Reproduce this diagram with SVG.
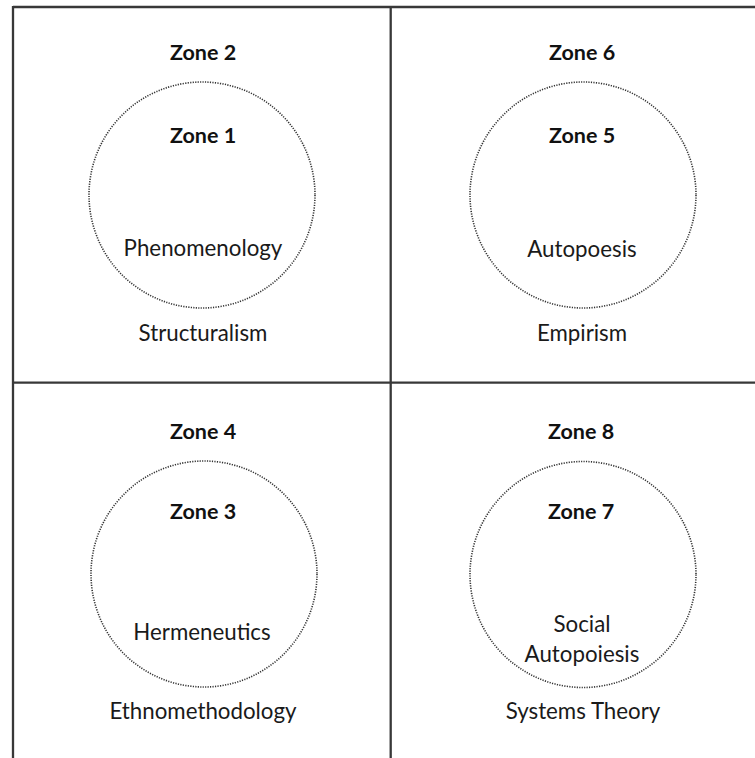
<svg xmlns="http://www.w3.org/2000/svg" width="755" height="758" viewBox="0 0 755 758">
  <style>
    .grid { stroke: #383838; stroke-width: 2.3; fill: none; }
    .ring { fill: none; stroke: #333; stroke-width: 1.6; stroke-dasharray: 1.2 1.3; }
    .zone { font-family: Lato, "Liberation Sans", sans-serif; font-weight: bold; font-size: 21.5px; fill: #111; text-anchor: middle; }
    .label { font-family: Lato, "Liberation Sans", sans-serif; font-size: 22.3px; fill: #1a1a1a; text-anchor: middle; }
  </style>
  <rect width="755" height="758" fill="#fff"/>

  <!-- quadrant frame -->
  <g id="connectors">
    <line class="grid" x1="13" y1="7" x2="755" y2="7"/>
    <line class="grid" x1="13" y1="6" x2="13" y2="758"/>
    <line class="grid" x1="390.7" y1="7" x2="390.7" y2="758"/>
    <line class="grid" x1="13" y1="382.7" x2="755" y2="382.7"/>
  </g>

  <!-- top-left quadrant -->
  <g id="zone2">
    <text class="zone" x="203" y="60">Zone 2</text>
    <text class="label" x="203" y="341">Structuralism</text>
  </g>
  <g id="zone1">
    <circle class="ring" cx="202" cy="195" r="113"/>
    <text class="zone" x="203" y="143">Zone 1</text>
    <text class="label" x="203" y="256">Phenomenology</text>
  </g>

  <!-- top-right quadrant -->
  <g id="zone6">
    <text class="zone" x="582" y="60">Zone 6</text>
    <text class="label" x="582" y="341">Empirism</text>
  </g>
  <g id="zone5">
    <circle class="ring" cx="583" cy="195" r="113"/>
    <text class="zone" x="582" y="143">Zone 5</text>
    <text class="label" x="582" y="257">Autopoesis</text>
  </g>

  <!-- bottom-left quadrant -->
  <g id="zone4">
    <text class="zone" x="203" y="439">Zone 4</text>
    <text class="label" x="203" y="719">Ethnomethodology</text>
  </g>
  <g id="zone3">
    <circle class="ring" cx="204" cy="574" r="113"/>
    <text class="zone" x="203" y="519">Zone 3</text>
    <text class="label" x="202" y="640">Hermeneutics</text>
  </g>

  <!-- bottom-right quadrant -->
  <g id="zone8">
    <text class="zone" x="581" y="439">Zone 8</text>
    <text class="label" x="583" y="719">Systems Theory</text>
  </g>
  <g id="zone7">
    <circle class="ring" cx="583" cy="574.5" r="113"/>
    <text class="zone" x="581" y="519">Zone 7</text>
    <text class="label" x="582" y="632">Social</text>
    <text class="label" x="582" y="661.5">Autopoiesis</text>
  </g>
</svg>
